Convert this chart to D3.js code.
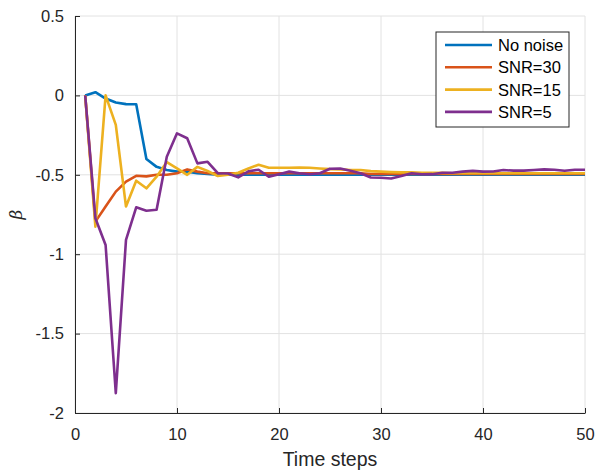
<!DOCTYPE html>
<html lang="en">
<head>
<meta charset="UTF-8">
<title>Beta over time steps</title>
<script src="https://d3js.org/d3.v7.min.js"></script>
<style>
  body { margin: 0; background: #fff; }
  svg { display: block; font-family: "Liberation Sans", Arial, sans-serif; }
</style>
</head>
<body>
<svg id="chart" width="598" height="475"></svg>
<script>
'use strict';

// time steps 1..50
const steps = d3.range(1, 51);

const noNoise = [0, 0.02, -0.02, -0.045, -0.055, -0.056, -0.40, -0.45, -0.47, -0.48,
  -0.48, -0.49, -0.495, -0.50, -0.50, -0.50, -0.50, -0.50, -0.50, -0.50,
  -0.50, -0.50, -0.50, -0.50, -0.50, -0.50, -0.50, -0.50, -0.50, -0.50,
  -0.50, -0.50, -0.50, -0.50, -0.50, -0.50, -0.50, -0.50, -0.50, -0.50,
  -0.50, -0.50, -0.50, -0.50, -0.50, -0.50, -0.50, -0.50, -0.50, -0.50];

const snr30 = [0, -0.795, -0.70, -0.606, -0.543, -0.506, -0.51, -0.50, -0.50, -0.49,
  -0.466, -0.48, -0.49, -0.49, -0.49, -0.49, -0.49, -0.49, -0.49, -0.49,
  -0.49, -0.49, -0.49, -0.49, -0.49, -0.49, -0.49, -0.49, -0.495, -0.495,
  -0.495, -0.495, -0.495, -0.495, -0.495, -0.495, -0.495, -0.495, -0.495, -0.495,
  -0.495, -0.495, -0.495, -0.495, -0.495, -0.495, -0.495, -0.495, -0.495, -0.495];

const snr15 = [0, -0.827, 0.0, -0.186, -0.70, -0.537, -0.585, -0.512, -0.42, -0.459,
  -0.50, -0.45, -0.476, -0.508, -0.50, -0.487, -0.46, -0.437, -0.456, -0.456,
  -0.456, -0.454, -0.456, -0.46, -0.464, -0.466, -0.47, -0.47, -0.477, -0.48,
  -0.483, -0.485, -0.485, -0.487, -0.487, -0.488, -0.49, -0.49, -0.49, -0.49,
  -0.49, -0.49, -0.49, -0.49, -0.49, -0.49, -0.49, -0.49, -0.49, -0.49];

const snr5 = [0, -0.774, -0.942, -1.875, -0.91, -0.705, -0.726, -0.72, -0.386, -0.239,
  -0.27, -0.428, -0.418, -0.49, -0.492, -0.516, -0.478, -0.468, -0.512, -0.496,
  -0.48, -0.49, -0.497, -0.49, -0.462, -0.46, -0.475, -0.49, -0.517, -0.519,
  -0.523, -0.508, -0.49, -0.497, -0.496, -0.487, -0.487, -0.48, -0.475, -0.48,
  -0.479, -0.47, -0.474, -0.474, -0.47, -0.466, -0.468, -0.475, -0.468, -0.468];

const seriesNames = ['No noise', 'SNR=30', 'SNR=15', 'SNR=5'];
const seriesValues = [noNoise, snr30, snr15, snr5];
const colors = ['#0072BD', '#D95319', '#EDB120', '#7E2F8E'];

const xTicks = [0, 10, 20, 30, 40, 50];
const yTicks = [0.5, 0, -0.5, -1, -1.5, -2];

const margin = { top: 16, right: 13, bottom: 62, left: 75 };
const width = 598, height = 475;
const svg = d3.select('#chart');

const x = d3.scaleLinear().domain([0, 50]).range([margin.left, width - margin.right]);
const y = d3.scaleLinear().domain([-2, 0.5]).range([height - margin.bottom, margin.top]);

// grid
svg.append('g').selectAll('line').data(xTicks).enter().append('line')
  .attr('x1', d => x(d)).attr('x2', d => x(d))
  .attr('y1', y(-2)).attr('y2', y(0.5))
  .attr('stroke', '#e2e2e2').attr('stroke-width', 1);
svg.append('g').selectAll('line').data(yTicks).enter().append('line')
  .attr('x1', x(0)).attr('x2', x(50))
  .attr('y1', d => y(d)).attr('y2', d => y(d))
  .attr('stroke', '#e2e2e2').attr('stroke-width', 1);

// lines
const line = d3.line().x((d, i) => x(steps[i])).y(d => y(d));
seriesValues.forEach((vals, k) => {
  svg.append('path').datum(vals)
    .attr('d', line)
    .attr('fill', 'none')
    .attr('stroke', colors[k])
    .attr('stroke-width', 2.6)
    .attr('stroke-linejoin', 'round');
});

// axes (ticks inward like matlab)
const xAxis = svg.append('g')
  .attr('transform', `translate(0,${y(-2)})`)
  .call(d3.axisBottom(x).tickValues(xTicks).tickSizeInner(-5).tickSizeOuter(0).tickPadding(15));
const yAxis = svg.append('g')
  .attr('transform', `translate(${x(0)},0)`)
  .call(d3.axisLeft(y).tickValues(yTicks).tickSizeInner(-5).tickSizeOuter(0).tickPadding(11)
    .tickFormat(d => d));
[xAxis, yAxis].forEach(a => {
  a.select('.domain').attr('stroke', '#262626');
  a.selectAll('.tick line').attr('stroke', '#262626');
  a.selectAll('.tick text').style('font-size', '16.5px').attr('fill', '#262626');
});

// labels
svg.append('text')
  .attr('x', x(25)).attr('y', 466)
  .attr('text-anchor', 'middle')
  .attr('fill', '#262626')
  .style('font-size', '19.5px')
  .text('Time steps');

svg.append('text')
  .attr('transform', `translate(22,${y(-0.75)}) rotate(-90)`)
  .attr('text-anchor', 'middle')
  .attr('fill', '#262626')
  .style('font-family', '"DejaVu Serif", "Liberation Serif", serif')
  .style('font-style', 'italic')
  .style('font-size', '17px')
  .text('β');

// legend
const legend = svg.append('g').attr('transform', 'translate(436,32)');
legend.append('rect')
  .attr('width', 133).attr('height', 95)
  .attr('fill', '#fff').attr('stroke', '#262626').attr('stroke-width', 1);
seriesNames.forEach((name, k) => {
  const yy = 13 + k * 22.3;
  legend.append('line')
    .attr('x1', 9).attr('x2', 56).attr('y1', yy).attr('y2', yy)
    .attr('stroke', colors[k]).attr('stroke-width', 2.6);
  legend.append('text')
    .attr('x', 62).attr('y', yy + 6)
    .attr('fill', '#000')
    .style('font-size', '16.5px')
    .text(name);
});
</script>
</body>
</html>
